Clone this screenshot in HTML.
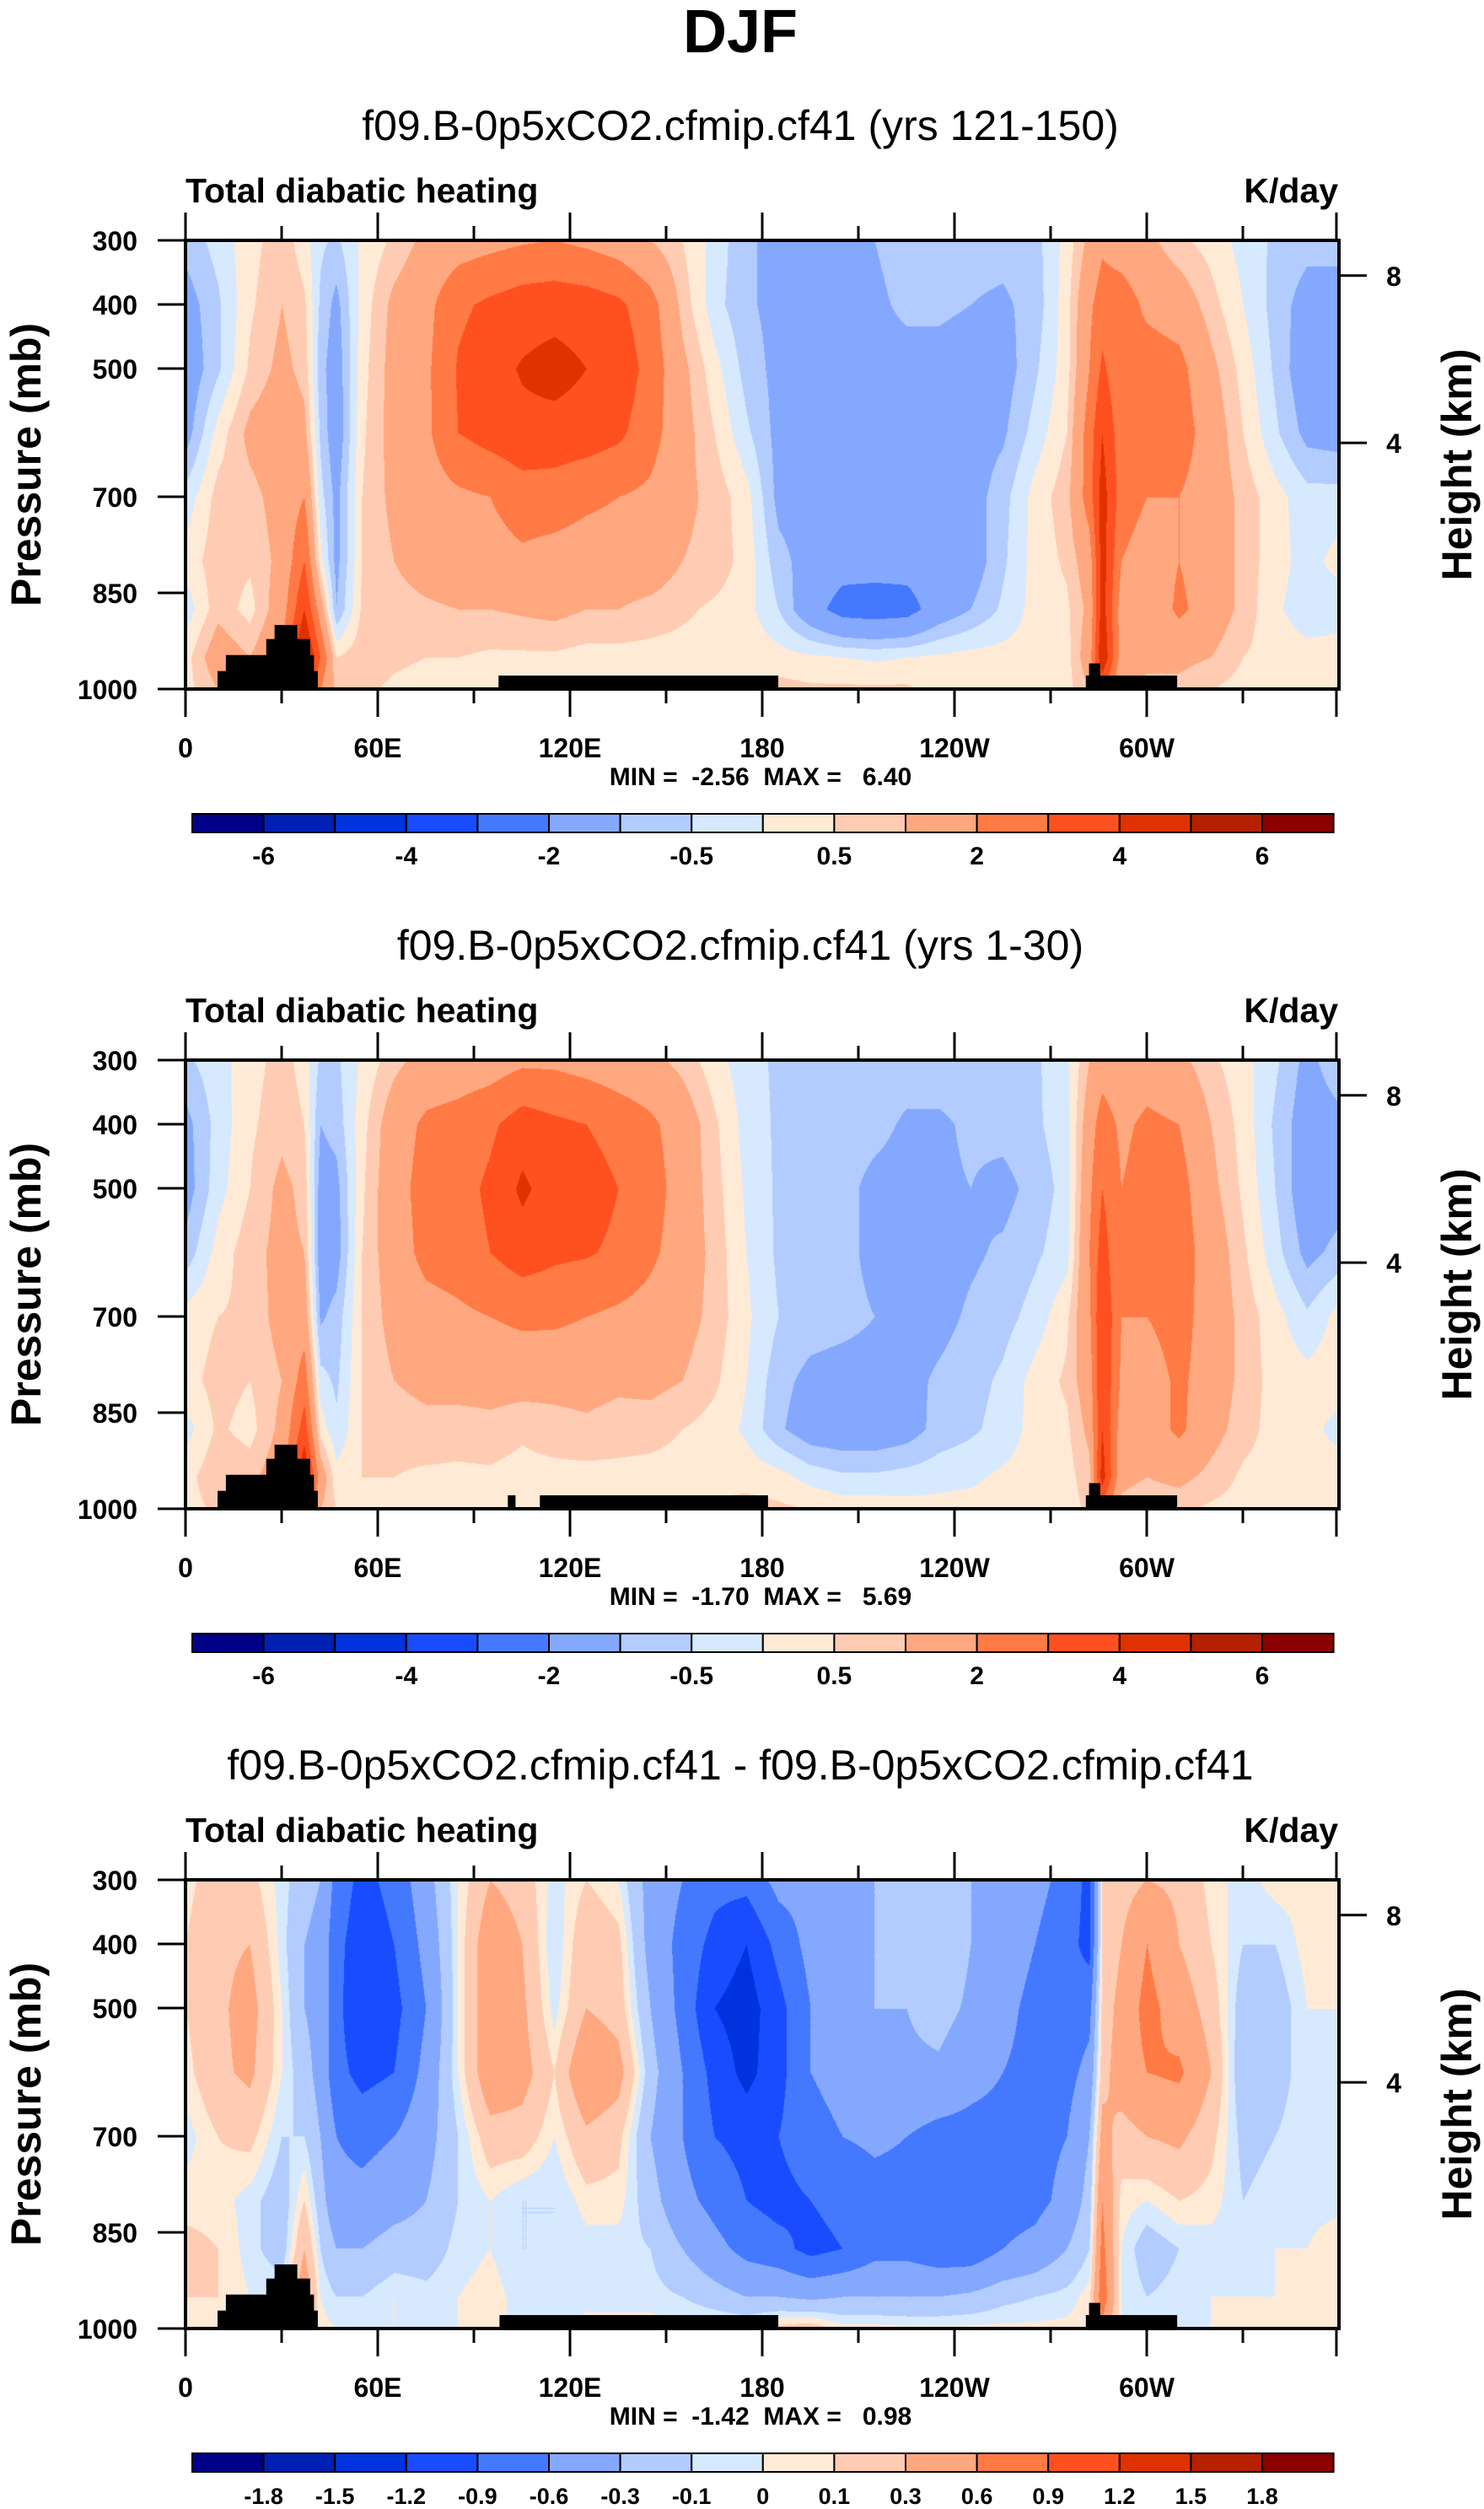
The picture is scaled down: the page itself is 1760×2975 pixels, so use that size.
<!DOCTYPE html>
<html><head><meta charset="utf-8">
<style>
html,body{margin:0;padding:0;background:#fff;}
#wrap{position:relative;width:1760px;height:2975px;overflow:hidden;background:#fff;font-family:"Liberation Sans",Arial,sans-serif;}
canvas{position:absolute;}
svg{position:absolute;left:0;top:0;}
</style></head>
<body>
<div id="wrap">
<canvas id="c0" width="1364" height="528" style="left:222px;top:287px"></canvas>
<canvas id="c1" width="1364" height="528" style="left:222px;top:1259px"></canvas>
<canvas id="c2" width="1364" height="528" style="left:222px;top:2231px"></canvas>
<svg id="ov" width="1760" height="2975">
<text x="878" y="62" text-anchor="middle" font-size="72" font-weight="bold" font-family="Liberation Sans, sans-serif">DJF</text>
</svg>
</div>
<script>
const PLEVS=[300,400,500,600,700,800,875,950,1000];
const LONS=[0,10,20,30,37,42,47,55,65,75,85,95,105,115,125,135,145,155,165,175,185,195,205,215,225,235,245,255,265,275,282,286,292,300,310,320,330,340,350,360];
const field1=[
[-0.8,-0.3,0.3,0.8,0.2,-0.4,-0.6,0.1,0.6,1.2,1.5,1.7,1.9,2,1.8,1.5,1.0,0.5,-0.2,-0.9,-1.2,-1.3,-1.3,-1.0,-0.8,-0.8,-0.8,-0.8,-0.7,0.2,1.2,1.8,1.5,1.2,0.6,0.3,-0.2,-0.6,-0.8,-0.8],
[-1.3,-0.6,0.4,1.0,0.6,-0.6,-1.2,0.2,1.2,1.7,2.8,3.2,3.5,3.6,3.5,3.2,2.4,0.8,-0.3,-0.9,-1.2,-1.3,-1.3,-1.1,-0.9,-0.9,-1.0,-1.1,-0.8,0.3,1.8,2.5,2.5,1.8,1.5,0.7,0.0,-0.7,-1.3,-1.3],
[-1.5,-0.6,0.6,1.2,0.8,-0.8,-1.4,0.3,1.3,1.8,3.1,3.6,4.1,4.4,4.0,3.7,2.6,1.2,0.2,-0.7,-1.2,-1.3,-1.3,-1.2,-1.2,-1.2,-1.3,-1.3,-0.6,0.3,2.0,3.2,2.2,2.5,2.3,1.2,0.3,-0.6,-1.5,-1.5],
[-1.3,0.2,1.2,1.5,1.2,-0.6,-1.5,0.4,1.3,1.8,3.0,3.4,3.7,3.6,3.5,3.2,2.4,1.3,0.5,-0.4,-1.2,-1.3,-1.3,-1.3,-1.3,-1.3,-1.3,-1.1,-0.3,0.5,2.5,4.0,2.4,2.2,2.5,1.5,0.5,-0.4,-1.2,-1.3],
[-0.3,0.7,0.8,1.3,2.0,-0.3,-1.2,0.5,1.2,1.5,1.8,2.0,2.5,2.5,2.2,2.0,1.8,1.2,0.8,0.2,-1.2,-1.3,-1.3,-1.3,-1.3,-1.3,-1.3,-0.7,0.2,0.8,2.5,4.5,2.5,2.0,2.0,1.5,0.8,0.2,-0.3,-0.3],
[0.2,0.8,0.6,1.2,3.0,0.2,-1.2,0.5,1.0,1.3,1.5,1.6,1.8,1.6,1.5,1.5,1.5,1.0,0.8,0.3,-0.8,-1.3,-1.6,-1.6,-1.6,-1.5,-1.4,-0.6,0.2,0.6,1.5,4.5,2.0,1.5,2.0,1.5,0.8,0.2,-0.2,0.2],
[-0.3,0.8,0.3,1.5,4.0,1.5,-1.0,0.6,0.8,0.9,1.0,1.0,1.1,1.2,1.0,1.0,0.8,0.6,0.4,0.2,-0.5,-1.6,-2.4,-2.5,-2.4,-1.5,-1.0,-0.4,0.2,0.4,1.2,4.5,1.5,1.2,2.2,1.5,0.8,0.1,-0.3,-0.3],
[0.3,1.5,1.0,2.0,5.5,3.0,0.5,0.8,0.6,0.5,0.5,0.4,0.4,0.4,0.3,0.3,0.3,0.3,0.3,0.3,0.2,0.1,0,-0.1,0,0.1,0.2,0.2,0.2,0.3,1.5,5.0,1.5,1.2,1.2,1.0,0.5,0.3,0.2,0.3],
[0.3,1.0,1.0,1.5,4.0,2.0,0.8,0.6,0.4,0.3,0.3,0.3,0.3,0.3,0.3,0.3,0.4,0.4,0.5,0.6,0.7,0.6,0.6,0.6,0.6,0.3,0.2,0.2,0.2,0.3,1.0,3.0,1.0,0.8,0.8,0.5,0.3,0.3,0.3,0.3]
];
const field2=[
[-0.6,-0.2,0.3,0.7,0.3,-0.6,-0.6,0.1,0.8,1.3,1.4,1.5,1.8,1.8,1.6,1.4,1.2,0.8,0.2,-0.3,-0.6,-0.7,-0.7,-0.7,-0.7,-0.7,-0.7,-0.7,-0.6,-0.1,1.0,1.5,1.2,1.5,1.2,0.6,0.2,-0.4,-1.2,-0.6],
[-1.2,-0.3,0.4,0.8,0.5,-1.0,-0.8,0.3,1.5,2.2,2.4,2.8,3.5,3.2,3.0,2.6,2.2,1.5,0.6,-0.2,-0.6,-0.7,-0.7,-0.8,-1.1,-1.1,-0.9,-0.8,-0.6,-0.2,1.5,2.5,1.8,2.2,2.0,1.0,0.3,-0.6,-1.4,-1.2],
[-1.3,-0.2,0.5,1.2,0.8,-1.3,-1.2,0.4,1.6,2.4,2.6,3.2,4.2,3.5,3.5,3.0,2.5,1.5,0.7,-0.1,-0.6,-0.7,-0.8,-1.2,-1.3,-1.1,-1.0,-1.2,-0.8,-0.3,1.8,3.0,2.0,2.4,2.4,1.2,0.4,-0.5,-1.5,-1.3],
[-0.8,0.2,0.8,1.2,1.0,-1.4,-1.3,0.5,1.5,2.3,2.5,3.0,3.5,3.2,3.1,2.8,2.2,1.5,0.8,0.0,-0.6,-0.7,-0.8,-1.2,-1.4,-1.3,-1.1,-0.9,-0.6,-0.2,2.0,3.5,2.0,2.4,2.5,1.5,0.6,-0.3,-1.2,-0.8],
[0.2,0.5,0.6,1.3,1.5,-1.1,-0.8,0.5,1.3,1.6,1.8,2.0,2.2,2.2,2.0,1.8,1.6,1.3,0.8,0.1,-0.5,-0.7,-0.8,-1.0,-1.3,-1.2,-0.9,-0.7,-0.3,0.4,1.8,4.0,2.0,2.0,2.4,1.5,0.8,0.2,-0.4,0.2],
[0.3,0.7,0.5,1.0,2.5,-0.3,-0.6,0.5,1.0,1.2,1.3,1.3,1.3,1.2,1.2,1.1,1.2,1.0,0.6,0.0,-0.8,-1.2,-1.3,-1.3,-1.2,-0.9,-0.7,-0.4,0.2,0.6,1.5,4.0,1.8,1.5,2.2,1.5,0.8,0.3,0.2,0.3],
[-0.2,0.6,0.3,1.2,3.5,0.3,-0.4,0.5,0.7,0.8,0.7,0.8,0.6,0.8,0.9,0.8,0.7,0.5,0.3,-0.1,-0.9,-1.4,-1.5,-1.5,-1.3,-0.8,-0.6,-0.3,0.2,0.4,1.2,4.0,1.5,1.5,2.2,1.3,0.7,0.3,0.2,-0.2],
[0.3,0.9,0.8,1.5,5.0,1.5,0.2,0.5,0.5,0.4,0.4,0.4,0.3,0.3,0.3,0.3,0.3,0.3,0.3,0.3,0.2,-0.2,-0.4,-0.4,-0.3,-0.2,-0.1,0.1,0.2,0.3,0.8,4.5,1.2,1.0,1.2,0.8,0.4,0.3,0.2,0.3],
[0.3,0.6,0.8,1.2,3.5,1.0,0.5,0.4,0.3,0.3,0.3,0.3,0.3,0.3,0.3,0.3,0.3,0.4,0.6,0.7,0.6,0.5,0.3,0.3,0.2,0.2,0.2,0.2,0.3,0.3,0.6,2.5,0.8,0.6,0.6,0.4,0.3,0.3,0.3,0.3]
];
const field3=[
[0.05,0.2,0.15,-0.05,-0.2,-0.3,-0.7,-1.0,-0.8,-0.4,0.0,0.3,0.2,-0.05,0.1,0.0,-0.4,-0.6,-0.8,-0.8,-0.5,-0.5,-0.4,-0.3,-0.3,-0.15,-0.3,-0.3,-0.5,-0.7,-1.0,0.1,0.2,0.3,0.25,0.05,-0.05,0.05,0.05,0.05],
[0.1,0.25,0.3,-0.05,-0.3,-0.4,-0.8,-1.1,-0.9,-0.5,0.0,0.5,0.3,-0.1,0.25,0.15,-0.4,-0.7,-1.0,-1.2,-0.8,-0.5,-0.4,-0.3,-0.2,-0.1,-0.3,-0.4,-0.6,-0.8,-1.0,0.1,0.3,0.6,0.3,0.1,-0.1,-0.1,0.05,0.05],
[0.1,0.25,0.4,0.0,-0.3,-0.4,-0.8,-1.2,-1.0,-0.6,0.0,0.5,0.35,-0.05,0.3,0.2,-0.3,-0.7,-1.2,-1.35,-1.0,-0.6,-0.45,-0.3,-0.3,-0.2,-0.35,-0.5,-0.7,-0.8,-0.7,0.15,0.4,0.7,0.45,0.2,-0.2,-0.2,0.0,0.0],
[0.05,0.25,0.35,0.0,-0.2,-0.4,-0.8,-1.0,-0.9,-0.5,0.0,0.5,0.4,0.1,0.55,0.4,-0.2,-0.6,-1.0,-1.3,-1.0,-0.6,-0.5,-0.4,-0.35,-0.35,-0.5,-0.6,-0.7,-0.7,-0.5,0.2,0.45,0.6,0.65,0.3,-0.25,-0.15,-0.05,0.0],
[-0.05,0.1,0.15,-0.1,-0.1,-0.3,-0.6,-0.7,-0.6,-0.4,-0.1,0.2,0.2,0.0,0.25,0.15,-0.3,-0.6,-0.9,-1.0,-0.9,-0.7,-0.6,-0.55,-0.6,-0.7,-0.7,-0.7,-0.7,-0.6,-0.3,0.4,0.2,0.3,0.35,0.15,-0.15,-0.1,-0.05,-0.05],
[0.05,0.05,-0.05,-0.2,0.1,-0.2,-0.5,-0.5,-0.4,-0.3,-0.1,0.0,-0.1,-0.1,0.05,0.05,-0.2,-0.5,-0.7,-0.9,-1.0,-0.9,-0.8,-0.7,-0.7,-0.75,-0.8,-0.75,-0.7,-0.5,-0.2,0.6,0.05,0.0,0.1,0.05,-0.1,-0.05,-0.05,-0.05],
[0.15,0.1,-0.05,-0.2,0.3,-0.1,-0.3,-0.3,-0.2,-0.2,-0.05,0.0,-0.1,-0.1,-0.05,-0.05,-0.1,-0.3,-0.5,-0.7,-0.8,-1.0,-0.9,-0.7,-0.7,-0.8,-0.8,-0.6,-0.5,-0.3,-0.1,0.7,0.0,-0.2,-0.1,-0.05,-0.05,0.0,0.0,0.1],
[0.1,0.1,0.0,0.0,0.5,0.0,-0.1,-0.1,0.0,-0.05,0.0,0.05,-0.05,-0.05,-0.05,-0.05,-0.05,-0.1,-0.2,-0.3,-0.3,-0.35,-0.3,-0.3,-0.3,-0.3,-0.25,-0.15,-0.1,-0.05,0.05,0.8,0.0,-0.1,-0.05,0.0,0.0,0.0,0.05,0.1],
[0.05,0.05,0.05,0.05,0.3,0.05,0.0,0.0,0.0,0.0,0.0,0.0,0.0,0.0,0.05,0.05,0.05,0.05,0.05,0.05,0.15,0.2,0.05,0.05,0.03,0.03,0.03,0.03,0.03,0.03,0.05,0.5,0.0,-0.05,0.0,0.0,0.0,0.05,0.05,0.05]
];
const levels12=[-6,-5,-4,-3,-2,-1,-0.5,0,0.5,1,2,3,4,5,6];
const levels3=[-1.8,-1.5,-1.2,-0.9,-0.6,-0.3,-0.1,0,0.1,0.3,0.6,0.9,1.2,1.5,1.8];
const colors=["#000089","#0020B4","#0033DE","#1A4CFF","#4479FF","#85A8FF","#B3CCFF","#D6E9FF","#FFEAD6","#FFCCB3","#FFA880","#FF7A45","#FF5020","#E03200","#B42000","#8B0000"];
const cbLabels12=["-6","","-4","","-2","","-0.5","","0.5","","2","","4","","6"];
const cbLabels3=["-1.8","-1.5","-1.2","-0.9","-0.6","-0.3","-0.1","0","0.1","0.3","0.6","0.9","1.2","1.5","1.8"];
const xTickLons=[0,60,120,180,240,300];
const xTickLabels=["0","60E","120E","180","120W","60W"];
const yTickP=[300,400,500,700,850,1000];
const hTickKm=[8,4];
const hTickP=[355,616];
const land1=[[10,41.3,972],[12.6,40.1,947],[25.2,38.9,922],[27.8,34.9,900],[97.7,185,979],[281,309.5,979],[282,285.5,960]];
const land2=[[10,41.3,972],[12.6,40.1,947],[25.2,38.9,922],[27.8,34.9,900],[100.6,103,979],[110.6,181.8,979],[281,309.5,979],[282,285.5,960]];
const land3=[[10,41.3,972],[12.6,40.1,947],[25.2,38.9,922],[27.8,34.9,900],[98,185,979],[281,309.5,979],[282,285.5,960]];
const titles=["f09.B-0p5xCO2.cfmip.cf41 (yrs 121-150)","f09.B-0p5xCO2.cfmip.cf41 (yrs 1-30)","f09.B-0p5xCO2.cfmip.cf41 - f09.B-0p5xCO2.cfmip.cf41"];
const minmax=["MIN =  -2.56  MAX =   6.40","MIN =  -1.70  MAX =   5.69","MIN =  -1.42  MAX =   0.98"];

const X0=220,X1=1588,PY0=285,PH=532;
function xOf(lon){return X0+lon*(X1-X0)/360;}
function yOf(p,off){return PY0+off+(p-300)/700*PH;}
function hexRGB(h){return [parseInt(h.slice(1,3),16),parseInt(h.slice(3,5),16),parseInt(h.slice(5,7),16)];}
const rgb=colors.map(hexRGB);
function findSeg(arr,v){let i=0;while(i<arr.length-2&&v>arr[i+1])i++;return [i,(v-arr[i])/(arr[i+1]-arr[i])];}
function drawField(id,field,lev){
  const cv=document.getElementById(id),ctx=cv.getContext('2d');
  const W=cv.width,H=cv.height,img=ctx.createImageData(W,H);
  const cs=[];for(let i=0;i<W;i++){cs.push(findSeg(LONS,Math.min(360,(i+2)*360/(X1-X0))));}
  for(let j=0;j<H;j++){
    const p=300+(j+2)/PH*700;const [r,t]=findSeg(PLEVS,Math.min(1000,p));
    const ra=field[r],rb=field[r+1];
    for(let i=0;i<W;i++){
      const [c,s]=cs[i];
      const v=(ra[c]*(1-s)+ra[c+1]*s)*(1-t)+(rb[c]*(1-s)+rb[c+1]*s)*t;
      let k=0;while(k<lev.length&&v>=lev[k])k++;
      const col=rgb[k],o=(j*W+i)*4;
      img.data[o]=col[0];img.data[o+1]=col[1];img.data[o+2]=col[2];img.data[o+3]=255;
    }
  }
  ctx.putImageData(img,0,0);
}
drawField('c0',field1,levels12);
drawField('c1',field2,levels12);
drawField('c2',field3,levels3);

const NS="http://www.w3.org/2000/svg";
const svg=document.getElementById('ov');
function el(tag,attrs,parent){const e=document.createElementNS(NS,tag);for(const k in attrs)e.setAttribute(k,attrs[k]);(parent||svg).appendChild(e);return e;}
function txt(s,attrs,parent){const e=el('text',Object.assign({'font-family':'Liberation Sans, sans-serif'},attrs),parent);e.textContent=s;return e;}

const lands=[land1,land2,land3];
for(let k=0;k<3;k++){
  const off=k*972;
  const g=el('g',{});
  
  
  let t=txt(titles[k],{x:878,y:166+off,'text-anchor':'middle','font-size':50},g);
  
  
  t=txt('Total diabatic heating',{x:220,y:240+off,'font-size':41,'font-weight':'bold'},g);
  
  
  t=txt('K/day',{x:1587,y:240+off,'text-anchor':'end','font-size':41,'font-weight':'bold'},g);
  
  
  for(const b of lands[k]){
    const r=el('rect',{x:xOf(b[0]),y:yOf(b[2],off),width:xOf(b[1])-xOf(b[0]),height:yOf(1000,off)-yOf(b[2],off),fill:'#000'},g);
    
    
  }
  const fr=el('rect',{x:X0,y:PY0+off,width:X1-X0,height:PH,fill:'none',stroke:'#000','stroke-width':4},g);
  
  
  for(let lon=0;lon<=360;lon+=30){
    const major=lon%60===0,len=major?33:17,x=xOf(Math.min(lon,359.2));
    const a=el('line',{x1:x,x2:x,y1:PY0+off,y2:PY0+off-len,stroke:'#000','stroke-width':3},g);
    
    
    const b=el('line',{x1:x,x2:x,y1:PY0+PH+off,y2:PY0+PH+off+len,stroke:'#000','stroke-width':3},g);
    
    
  }
  xTickLons.forEach((lon,i)=>{
    const l=txt(xTickLabels[i],{x:xOf(lon),y:898+off,'text-anchor':'middle','font-size':32,'font-weight':'bold'},g);
    
    
  });
  yTickP.forEach(p=>{
    const y=yOf(p,off);
    const a=el('line',{x1:187,x2:X0,y1:y,y2:y,stroke:'#000','stroke-width':3},g);
    
    
    const l=txt(String(p),{x:163,y:y+12,'text-anchor':'end','font-size':32,'font-weight':'bold'},g);
    
    
  });
  hTickKm.forEach((h,i)=>{
    const y=yOf(hTickP[i],off);
    const a=el('line',{x1:X1,x2:1621,y1:y,y2:y,stroke:'#000','stroke-width':3},g);
    
    
    const l=txt(String(h),{x:1653,y:y+12,'text-anchor':'middle','font-size':32,'font-weight':'bold'},g);
    
    
  });
  let yl=txt('Pressure (mb)',{x:0,y:0,'text-anchor':'middle','font-size':50,'font-weight':'bold',transform:'translate(48,'+(551+off)+') rotate(-90)'},g);
  
  
  let hl=txt('Height (km)',{x:0,y:0,'text-anchor':'middle','font-size':50,'font-weight':'bold',transform:'translate(1745,'+(551+off)+') rotate(-90)'},g);
  
  
  let mm=txt(minmax[k],{x:902,y:931+off,'text-anchor':'middle','font-size':30,'font-weight':'bold',style:'white-space:pre'},g);
  
  
  const cbx=228,cbw=84.6,cby=965+off,cbh=22;
  colors.forEach((c,i)=>{
    const r=el('rect',{x:cbx+i*cbw,y:cby,width:cbw,height:cbh,fill:c,stroke:'#000','stroke-width':2},g);
    
    
  });
  const labs=k<2?cbLabels12:cbLabels3;
  labs.forEach((s,i)=>{
    if(!s)return;
    const l=txt(s,{x:cbx+(i+1)*cbw,y:1025+off,'text-anchor':'middle','font-size':k<2?30:27,'font-weight':'bold'},g);
    
    
  });
}
</script>
</body></html>
